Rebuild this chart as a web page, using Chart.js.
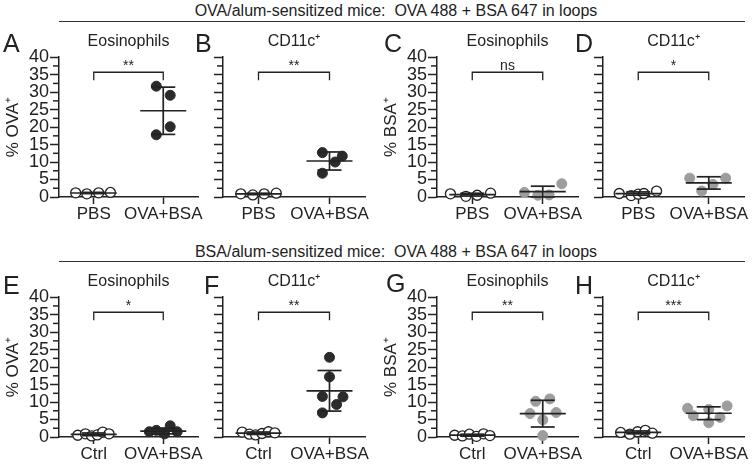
<!DOCTYPE html>
<html>
<head>
<meta charset="utf-8">
<script src="https://cdn.jsdelivr.net/npm/chart.js@4.4.1/dist/chart.umd.min.js"></script>
<style>
  body { margin: 0; width: 752px; height: 467px; background: #fff; position: relative; overflow: hidden;
         font-family: "Liberation Sans", Arial, sans-serif; color: #222; }
  .hdr { position: absolute; left: 180px; width: 432px; text-align: center; font-size: 16px; line-height: 16px; white-space: nowrap; }
  .rule { position: absolute; left: 59px; width: 686px; height: 0; border-top: 1.5px solid #333; }
  .letter { position: absolute; font-size: 25px; line-height: 1; }
  canvas { position: absolute; }
</style>
</head>
<body>
<div class="hdr" style="top:3px">OVA/alum-sensitized mice:&nbsp; OVA 488 + BSA 647 in loops</div>
<div class="rule" style="top:21px"></div>
<div class="hdr" style="top:244px">BSA/alum-sensitized mice:&nbsp; OVA 488 + BSA 647 in loops</div>
<div class="rule" style="top:261px"></div>

<script>
// categories
const topCats = ['PBS', 'OVA+BSA'];
const bottomCats = ['Ctrl', 'OVA+BSA'];

// values (%), with horizontal spread of each dot (category units)
const A_ctrl = [1.2, 0.9, 1.2, 1.3];
const A_ctrlDx = [-0.26, -0.1, 0.07, 0.24];
const A_trt = [31.7, 29.1, 20.1, 17.8];
const A_trtDx = [-0.1, 0.1, 0.1, -0.1];

const B_ctrl = [0.9, 0.6, 0.9, 1.1];
const B_ctrlDx = [-0.25, -0.08, 0.08, 0.25];
const B_trt = [12.7, 11.7, 10.0, 6.8];
const B_trtDx = [-0.1, 0.18, 0.08, -0.1];

const C_ctrl = [0.9, 0.2, 0.5, 1.1];
const C_ctrlDx = [-0.31, -0.09, 0.07, 0.26];
const C_trt = [1.3, 0.5, 0.6, 3.8];
const C_trtDx = [-0.26, -0.07, 0.09, 0.27];

const D_ctrl = [1.0, 0.4, 0.8, 1.0, 1.7];
const D_ctrlDx = [-0.27, -0.1, 0.0, 0.08, 0.26];
const D_trt = [5.4, 5.4, 3.6, 1.7];
const D_trtDx = [-0.27, 0.24, 0.06, -0.1];

const E_ctrl = [0.5, 0.9, 0.3, 0.6, 1.4, 0.9];
const E_ctrlDx = [-0.23, -0.12, -0.03, 0.05, 0.13, 0.22];
const E_trt = [1.5, 1.9, 1.2, 0.9, 3.2, 1.5];
const E_trtDx = [-0.2, -0.1, 0.0, 0.02, 0.1, 0.2];

const F_ctrl = [1.4, 0.8, 0.6, 1.0, 1.5, 1.2];
const F_ctrlDx = [-0.23, -0.13, -0.04, 0.05, 0.14, 0.23];
const F_trt = [22.8, 17.2, 11.6, 11.5, 9.3, 6.9];
const F_trtDx = [0, 0, -0.1, 0.19, 0.1, -0.1];

const G_ctrl = [0.5, 0.3, 0.8, 0.2, 0.9, 0.4];
const G_ctrlDx = [-0.25, -0.14, -0.04, 0.06, 0.16, 0.25];
const G_trt = [10.2, 10.9, 6.7, 7.0, 4.9, 0.4];
const G_trtDx = [-0.1, 0.1, -0.18, 0.19, 0, 0];

const H_ctrl = [1.3, 0.8, 1.5, 1.9, 1.1];
const H_ctrlDx = [-0.25, -0.12, -0.01, 0.1, 0.2];
const H_trt = [8.2, 8.9, 6.1, 5.6, 7.9, 4.1];
const H_trtDx = [-0.3, 0.26, -0.22, 0.16, 0, 0];

// significance labels and bracket height
const sigLabels = { A: '**', B: '**', C: 'ns', D: '*', E: '*', F: '**', G: '**', H: '***' };
const bracketAt = 35.7;

const ink = '#222';
const darkDot = '#2b2b2b';
const greyDot = '#9d9d9d';

const mean = a => a.reduce((s, v) => s + v, 0) / a.length;
const stdev = a => { const m = mean(a); return Math.sqrt(a.reduce((s, v) => s + (v - m) ** 2, 0) / (a.length - 1)); };

// mean +/- SD, minor ticks and the significance bracket
const dotPlotExtras = {
  id: 'dotPlotExtras',
  afterDatasetsDraw(chart, args, opts) {
    const { ctx, scales: { x, y } } = chart;
    const seg = (x1, y1, x2, y2) => { ctx.beginPath(); ctx.moveTo(x1, y1); ctx.lineTo(x2, y2); ctx.stroke(); };
    ctx.save();
    ctx.strokeStyle = ink;
    ctx.lineWidth = 1.5;

    for (let v = 2.5; v < 40; v += 5) {
      const py = y.getPixelForValue(v);
      seg(x.left - 6, py, x.left, py);
    }

    ctx.lineWidth = 1.7;
    opts.groups.forEach((vals, i) => {
      const cx = x.getPixelForValue(i + 1);
      const m = mean(vals), sd = stdev(vals);
      const pm = y.getPixelForValue(m);
      const hi = y.getPixelForValue(m + sd);
      const lo = y.getPixelForValue(m - sd);
      seg(cx - 23, pm, cx + 23, pm);
      seg(cx, hi, cx, lo);
      seg(cx - 12, hi, cx + 12, hi);
      seg(cx - 12, lo, cx + 12, lo);
    });

    const x1 = x.getPixelForValue(1), x2 = x.getPixelForValue(2);
    const by = y.getPixelForValue(bracketAt);
    ctx.lineWidth = 1.3;
    ctx.beginPath();
    ctx.moveTo(x1, by + 8); ctx.lineTo(x1, by); ctx.lineTo(x2, by); ctx.lineTo(x2, by + 8);
    ctx.stroke();
    ctx.fillStyle = ink;
    ctx.font = '14px "Liberation Sans", Arial, sans-serif';
    ctx.textAlign = 'center';
    ctx.textBaseline = 'alphabetic';
    ctx.fillText(opts.sig, (x1 + x2) / 2, by - 2);
    ctx.restore();
  }
};

const panels = [
  { id: 'A', axisX: 59,  plotTop: 57,  pw: 139, labels: true,  yTitle: '% OVA⁺', title: 'Eosinophils', cats: topCats, ctrl: A_ctrl, ctrlDx: A_ctrlDx, trt: A_trt, trtDx: A_trtDx, col: darkDot, lx: 3,   ly: 31 },
  { id: 'B', axisX: 223, plotTop: 57,  pw: 142, labels: false, yTitle: '',        title: 'CD11c⁺',      cats: topCats, ctrl: B_ctrl, ctrlDx: B_ctrlDx, trt: B_trt, trtDx: B_trtDx, col: darkDot, lx: 195, ly: 31 },
  { id: 'C', axisX: 437, plotTop: 57,  pw: 141, labels: true,  yTitle: '% BSA⁺', title: 'Eosinophils', cats: topCats, ctrl: C_ctrl, ctrlDx: C_ctrlDx, trt: C_trt, trtDx: C_trtDx, col: greyDot, lx: 384, ly: 31 },
  { id: 'D', axisX: 603, plotTop: 57,  pw: 141, labels: false, yTitle: '',        title: 'CD11c⁺',      cats: topCats, ctrl: D_ctrl, ctrlDx: D_ctrlDx, trt: D_trt, trtDx: D_trtDx, col: greyDot, lx: 575, ly: 31 },
  { id: 'E', axisX: 59,  plotTop: 297, pw: 139, labels: true,  yTitle: '% OVA⁺', title: 'Eosinophils', cats: bottomCats, ctrl: E_ctrl, ctrlDx: E_ctrlDx, trt: E_trt, trtDx: E_trtDx, col: darkDot, lx: 3,   ly: 273 },
  { id: 'F', axisX: 223, plotTop: 297, pw: 142, labels: false, yTitle: '',        title: 'CD11c⁺',      cats: bottomCats, ctrl: F_ctrl, ctrlDx: F_ctrlDx, trt: F_trt, trtDx: F_trtDx, col: darkDot, lx: 204, ly: 273 },
  { id: 'G', axisX: 437, plotTop: 297, pw: 141, labels: true,  yTitle: '% BSA⁺', title: 'Eosinophils', cats: bottomCats, ctrl: G_ctrl, ctrlDx: G_ctrlDx, trt: G_trt, trtDx: G_trtDx, col: greyDot, lx: 386, ly: 271 },
  { id: 'H', axisX: 603, plotTop: 297, pw: 141, labels: false, yTitle: '',        title: 'CD11c⁺',      cats: bottomCats, ctrl: H_ctrl, ctrlDx: H_ctrlDx, trt: H_trt, trtDx: H_trtDx, col: greyDot, lx: 575, ly: 273 }
];

const font = { family: '"Liberation Sans", Arial, sans-serif' };
const titleH = 35, xAxisH = 30, plotH = 140, padR = 26;

panels.forEach(p => {
  const yW = p.labels ? 59 : 10;
  const canvas = document.createElement('canvas');
  canvas.width = yW + p.pw + padR;
  canvas.height = titleH + plotH + xAxisH;
  canvas.style.left = (p.axisX - yW) + 'px';
  canvas.style.top = (p.plotTop - titleH) + 'px';
  document.body.appendChild(canvas);

  const letter = document.createElement('div');
  letter.className = 'letter';
  letter.textContent = p.id;
  letter.style.left = p.lx + 'px';
  letter.style.top = p.ly + 'px';
  document.body.appendChild(letter);

  const dots = (vals, dx, g) => vals.map((v, i) => ({ x: g + dx[i], y: v }));

  new Chart(canvas, {
    type: 'scatter',
    data: {
      datasets: [
        { data: dots(p.ctrl, p.ctrlDx, 1), backgroundColor: '#fff', borderColor: ink, borderWidth: 1.3, pointRadius: 5, clip: false },
        { data: dots(p.trt, p.trtDx, 2), backgroundColor: p.col, borderColor: p.col, borderWidth: 1, pointRadius: 5, clip: false }
      ]
    },
    options: {
      responsive: false,
      animation: false,
      devicePixelRatio: 1,
      events: [],
      layout: { padding: { left: 0, right: padR, top: 0, bottom: 0 }, autoPadding: false },
      plugins: {
        legend: { display: false },
        tooltip: { enabled: false },
        title: { display: true, text: p.title, fullSize: false, color: ink, font: { ...font, size: 16, weight: 'normal' }, padding: { top: 10, bottom: 6 } },
        dotPlotExtras: { groups: [p.ctrl, p.trt], sig: sigLabels[p.id] }
      },
      scales: {
        x: {
          type: 'linear', min: 0.5, max: 2.5,
          afterBuildTicks: s => { s.ticks = p.cats.map((c, i) => ({ value: i + 1 })); },
          afterFit: s => { s.height = xAxisH; },
          ticks: { callback: v => p.cats[Math.round(v) - 1], color: ink, font: { ...font, size: 17 }, padding: 0, maxRotation: 0, autoSkip: false },
          grid: { drawOnChartArea: false, tickLength: 7, tickWidth: 1.5, color: ink },
          border: { color: ink, width: 1.5 }
        },
        y: {
          min: 0, max: 40,
          afterFit: s => { s.width = yW; },
          ticks: { stepSize: 5, autoSkip: false, callback: v => (p.labels ? v : ''), color: ink, font: { ...font, size: 18 }, padding: 1 },
          grid: { drawOnChartArea: false, tickLength: 9, tickWidth: 1.5, color: ink },
          border: { color: ink, width: 1.5 },
          title: { display: p.labels, text: p.yTitle, color: ink, font: { ...font, size: 17 }, padding: { top: 3, bottom: 0 } }
        }
      }
    },
    plugins: [dotPlotExtras]
  });
});
</script>
</body>
</html>
